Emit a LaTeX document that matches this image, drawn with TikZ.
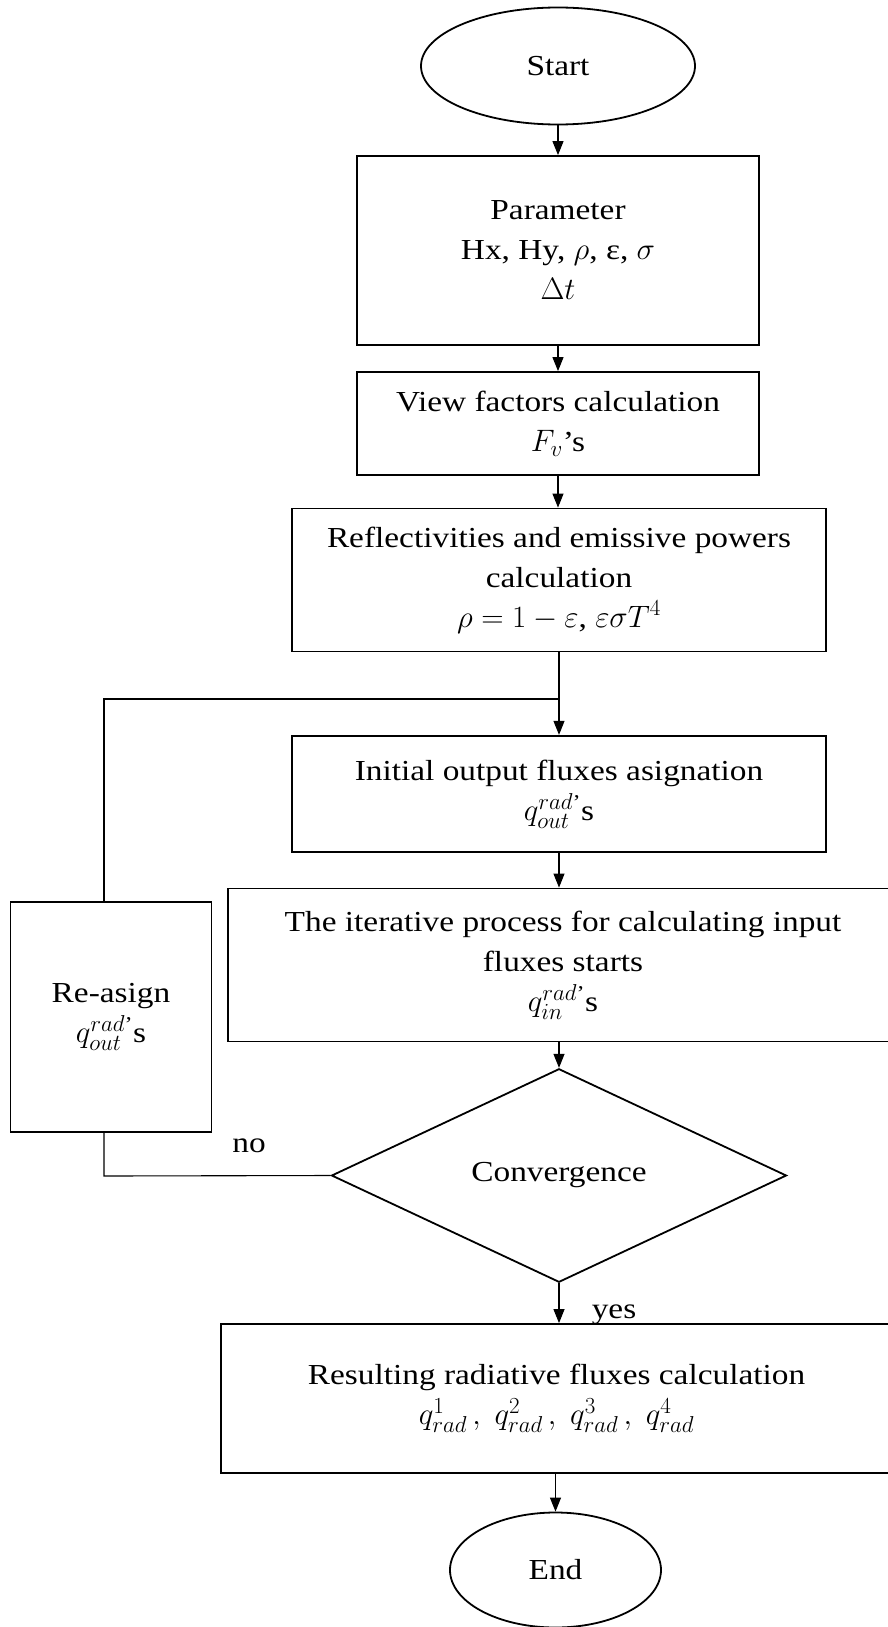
\RequirePackage{fix-cm}
\documentclass[tikz,border=0pt]{standalone}
\usepackage[no-math]{fontspec}
\setmainfont{Liberation Serif}[FakeStretch=1.15]
\usetikzlibrary{shapes.geometric,arrows.meta}
\DeclareMathSizes{29}{31}{23}{18}
\newcommand\boxfont{\fontsize{29}{40}\selectfont}
\newcommand\qap{\mbox{\fontsize{21}{21}\selectfont ’}}
\begin{document}
\begin{tikzpicture}[x=1pt,y=-1pt,
  box/.style={draw, rectangle, line width=1.8pt, inner sep=0pt, align=center, font=\boxfont},
  term/.style={draw, ellipse, line width=1.8pt, inner sep=0pt, align=center, font=\boxfont},
  dec/.style={draw, diamond, line width=1.8pt, inner sep=0pt, align=center, font=\boxfont},
  lbl/.style={inner sep=0pt, font=\boxfont, anchor=base},
  conn/.style={line width=1.1pt},
  arr/.style={conn, -{Triangle[length=14pt,width=11pt]}}]
\useasboundingbox (0,0) rectangle (888,1627);
\clip (0,0) rectangle (888,1627);
\node[term, minimum width=274pt, minimum height=117pt] (start) at (558,66) {Start};
\node[box, minimum width=402pt, minimum height=189pt] (param) at (558,250.5) {Parameter\\Hx, Hy, $\rho$, ε, $\sigma$\\$\Delta t$};
\node[box, minimum width=402pt, minimum height=103pt] (view) at (558,423.5) {View factors calculation\\$F_v$’s};
\node[box, minimum width=534pt, minimum height=143pt] (refl) at (559,580) {Reflectivities and emissive powers\\calculation\\$\rho = 1 - \varepsilon$, $\varepsilon\sigma T^4$};
\coordinate (j) at (559,699);
\coordinate (lt) at (104,699);
\node[box, minimum width=534pt, minimum height=116.5pt] (init) at (559,794) {Initial output fluxes asignation\\$q^{rad\qap}_{out}$s};
\node[box, minimum width=670pt, minimum height=153pt] (iter) at (563,965) {The iterative process for calculating input\\fluxes starts\\$q^{rad\qap}_{in}$s};
\node[box, minimum width=201pt, minimum height=229.5pt] (reas) at (111,1017) {Re-asign\\$q^{rad\qap}_{out}$s};
\node[dec, minimum width=455pt, minimum height=213.5pt] (conv) at (559,1175.5) {Convergence};
\coordinate (lb) at (104,1176);
\node[box, minimum width=671pt, minimum height=149pt] (res) at (556.5,1398.5) {Resulting radiative fluxes calculation\\$q^1_{rad}\,,\; q^2_{rad}\,,\; q^3_{rad}\,,\; q^4_{rad}$};
\node[term, minimum width=211pt, minimum height=115pt] (end) at (555.5,1570) {End};
\node[lbl] (no) at (249,1152) {no};
\node[lbl] (yes) at (614,1318) {yes};
\draw[arr] (start.south) -- (start.south |- param.north);
\draw[arr] (param.south) -- (param.south |- view.north);
\draw[arr] (view.south) -- (view.south |- refl.north);
\draw[arr] (refl.south) -- (j) -- (init.north);
\draw[conn] (reas.north -| lt) -- (lt) -- (j);
\draw[arr] (init.south) -- (init.south |- iter.north);
\draw[arr] (conv.north |- iter.south) -- (conv.north);
\draw[conn] (conv.west) -- (lb) -- (lb |- reas.south);
\draw[arr] (conv.south) -- (conv.south |- res.north);
\draw[arr] (end.north |- res.south) -- (end.north);
\end{tikzpicture}
\end{document}
